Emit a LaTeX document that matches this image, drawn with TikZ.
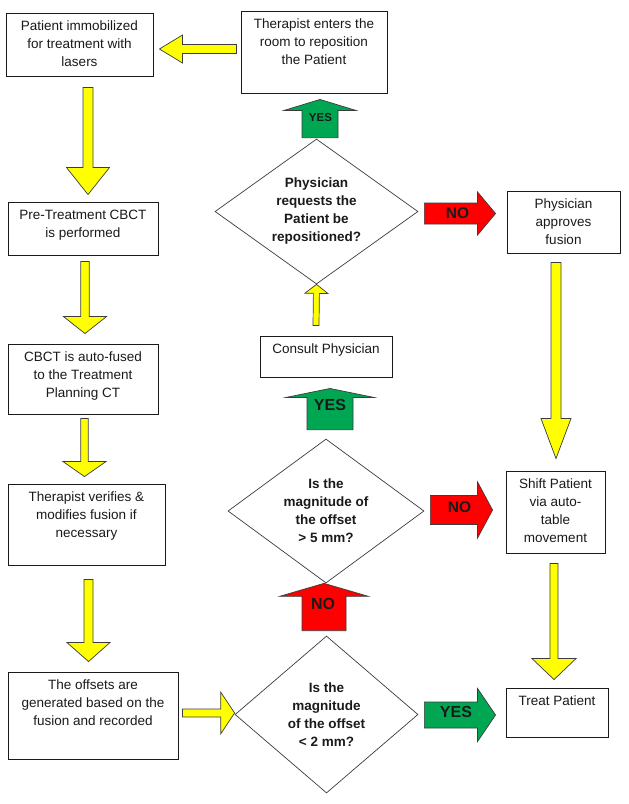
\documentclass[tikz,border=0pt]{standalone}
\usepackage{fontspec}
\setmainfont{Liberation Sans}
\usepackage{tikz}
\usetikzlibrary{calc,positioning,shapes.geometric}
\definecolor{ink}{HTML}{1A1A1A}
\definecolor{edge}{HTML}{3C3C3C}
\definecolor{arryellow}{HTML}{FFFF00}
\definecolor{arrgreen}{HTML}{00A651}
\definecolor{arrred}{HTML}{FF0000}
\tikzset{
  stepbox/.style={draw=ink,line width=0.9pt,fill=white,inner sep=0pt},
  steptext/.style={inner sep=0pt,align=center,text=ink,font=\fontsize{13.5}{18}\selectfont},
  decision/.style={diamond,draw=edge,line width=0.7pt,fill=white,inner sep=0pt,shape aspect=1.4,align=center,text=ink,font=\bfseries\fontsize{13.5}{18}\selectfont},
  blockarr/.style n args={3}{to path={
    ($(\tikztostart)!#1!90:(\tikztotarget)$)
    -- ($(\tikztotarget)!#3!(\tikztostart)!#1!90:(\tikztotarget)$)
    -- ($(\tikztotarget)!#3!(\tikztostart)!#2!90:(\tikztotarget)$)
    -- (\tikztotarget)
    -- ($(\tikztotarget)!#3!(\tikztostart)!#2!-90:(\tikztotarget)$)
    -- ($(\tikztotarget)!#3!(\tikztostart)!#1!-90:(\tikztotarget)$)
    -- ($(\tikztostart)!#1!-90:(\tikztotarget)$)
    -- cycle}},
  yelarr/.style={draw=edge,line width=0.7pt,fill=arryellow,line join=miter},
  grnarr/.style={draw=edge,line width=0.7pt,fill=arrgreen,line join=miter},
  redarr/.style={draw=edge,line width=0.7pt,fill=arrred,line join=miter},
  answer/.style={inner sep=0pt,text=ink,font=\bfseries\fontsize{16}{16}\selectfont}
}

\begin{document}
\begin{tikzpicture}[x=1pt,y=1pt]
  \useasboundingbox (0,0) rectangle (629,-804);

  % left column
  \node[stepbox,minimum width=147pt,minimum height=63pt] (pat) at (79.5,-44.5) {};
  \node[steptext,below=8pt of pat.north] (pattxt) {Patient immobilized\\for treatment with\\lasers};
  \node[stepbox,minimum width=150pt,minimum height=53pt] (pre) at (83,-228.5) {};
  \node[steptext,below=8pt of pre.north] (pretxt) {Pre-Treatment CBCT\\is performed};
  \node[stepbox,minimum width=150pt,minimum height=70pt] (cbct) at (83,-379) {};
  \node[steptext,below=8pt of cbct.north] (cbcttxt) {CBCT is auto-fused\\to the Treatment\\Planning CT};
  \node[stepbox,minimum width=157pt,minimum height=81pt] (ver) at (86.5,-524.5) {};
  \node[steptext,below=8pt of ver.north] (vertxt) {Therapist verifies \&\\modifies fusion if\\necessary};
  \node[stepbox,minimum width=170pt,minimum height=87pt] (off) at (93,-715.5) {};
  \node[steptext,below=8pt of off.north] (offtxt) {The offsets are\\generated based on the\\fusion and recorded};

  % middle column
  \node[stepbox,minimum width=146pt,minimum height=82pt] (ther) at (314,-52) {};
  \node[steptext,below=8pt of ther.north] (thertxt) {Therapist enters the\\room to reposition\\the Patient};
  \node[decision,minimum width=203pt,minimum height=145pt] (req) at (316.5,-211.5)
    {Physician\\requests the\\Patient be\\repositioned?};
  \node[stepbox,minimum width=132pt,minimum height=41pt] (cons) at (326,-356.5) {};
  \node[steptext,below=8pt of cons.north] (constxt) {Consult Physician};
  \node[decision,minimum width=196pt,minimum height=144pt] (big) at (326,-511)
    {Is the\\magnitude of\\the offset\\> 5 mm?};
  \node[decision,minimum width=183pt,minimum height=157pt] (small) at (326.5,-714.5)
    {Is the\\magnitude\\of the offset\\< 2 mm?};

  % right column
  \node[stepbox,minimum width=113pt,minimum height=62pt] (appr) at (563.5,-222) {};
  \node[steptext,below=8pt of appr.north] (apprtxt) {Physician\\approves\\fusion};
  \node[stepbox,minimum width=99pt,minimum height=82pt] (shift) at (555.5,-512) {};
  \node[steptext,below=8pt of shift.north] (shifttxt) {Shift Patient\\via auto-\\table\\movement};
  \node[stepbox,minimum width=102pt,minimum height=49pt] (treat) at (557,-712.5) {};
  \node[steptext,below=8pt of treat.north] (treattxt) {Treat Patient};

  % yellow flow arrows
  \draw[yelarr] ($(pat.south)+(8.5,-11)$) to[blockarr={5pt}{21.5pt}{27pt}] ($(pre.north)+(5,7)$);
  \draw[yelarr] ($(pre.south)+(2,-6)$) to[blockarr={4.2pt}{21.5pt}{17pt}] ($(cbct.north)+(2,10)$);
  \draw[yelarr] ($(cbct.south)+(1.5,-4)$) to[blockarr={3.7pt}{21.5pt}{15pt}] ($(ver.north)+(-2,7)$);
  \draw[yelarr] ($(ver.south)+(2,-14)$) to[blockarr={4.5pt}{21.5pt}{19pt}] ($(off.north)+(-4.5,10)$);
  \draw[yelarr] ($(off.east)+(4,2.5)$) to[blockarr={4pt}{21pt}{14pt}] ($(small.west)+(0,1.5)$);
  \draw[yelarr] ($(ther.west)+(-4,3)$) to[blockarr={4.5pt}{14pt}{23pt}] ($(pat.east)+(6,-4.5)$);
  \draw[yelarr] ($(cons.north)+(-10,10)$) to[blockarr={3pt}{11.5pt}{9pt}] (req.south);
  \draw[yelarr] ($(appr.south)+(-7.5,-9)$) to[blockarr={5pt}{15pt}{40pt}] ($(shift.north)+(0.5,12)$);
  \draw[yelarr] ($(shift.south)+(-1.5,-10)$) to[blockarr={4pt}{22pt}{21pt}] ($(treat.north)+(-3,8)$);

  % answers
  \draw[grnarr] ($(req.north)+(3.5,1)$) to[blockarr={18pt}{36pt}{11pt}] ($(ther.south)+(6,-6)$);
  \node[answer,font=\bfseries\fontsize{11.5}{11.5}\selectfont] (yes1) at (320.5,-118) {YES};
  \draw[redarr] ($(req.east)+(6,-2)$) to[blockarr={10.5pt}{21.5pt}{18pt}] ($(appr.west)+(-11,8.5)$);
  \node[answer,font=\bfseries\fontsize{15.5}{15.5}\selectfont] (no1) at (457.5,-213) {NO};
  \draw[grnarr] ($(big.north)+(4,9)$) to[blockarr={23pt}{44pt}{9pt}] ($(cons.south)+(4,-11)$);
  \node[answer] (yes2) at (330,-405) {YES};
  \draw[redarr] ($(big.east)+(6,1)$) to[blockarr={14.5pt}{28pt}{15pt}] ($(shift.west)+(-13,2)$);
  \node[answer,font=\bfseries\fontsize{15.5}{15.5}\selectfont] (no2) at (459.5,-507) {NO};
  \draw[redarr] ($(small.north)+(-2.5,5)$) to[blockarr={22pt}{44.5pt}{13pt}] ($(big.south)+(-2,0)$);
  \node[answer] (no3) at (323,-604) {NO};
  \draw[grnarr] ($(small.east)+(6,-0.5)$) to[blockarr={13pt}{26.5pt}{18pt}] ($(treat.west)+(-10,-2.5)$);
  \node[answer] (yes3) at (456,-712) {YES};
\end{tikzpicture}
\end{document}
